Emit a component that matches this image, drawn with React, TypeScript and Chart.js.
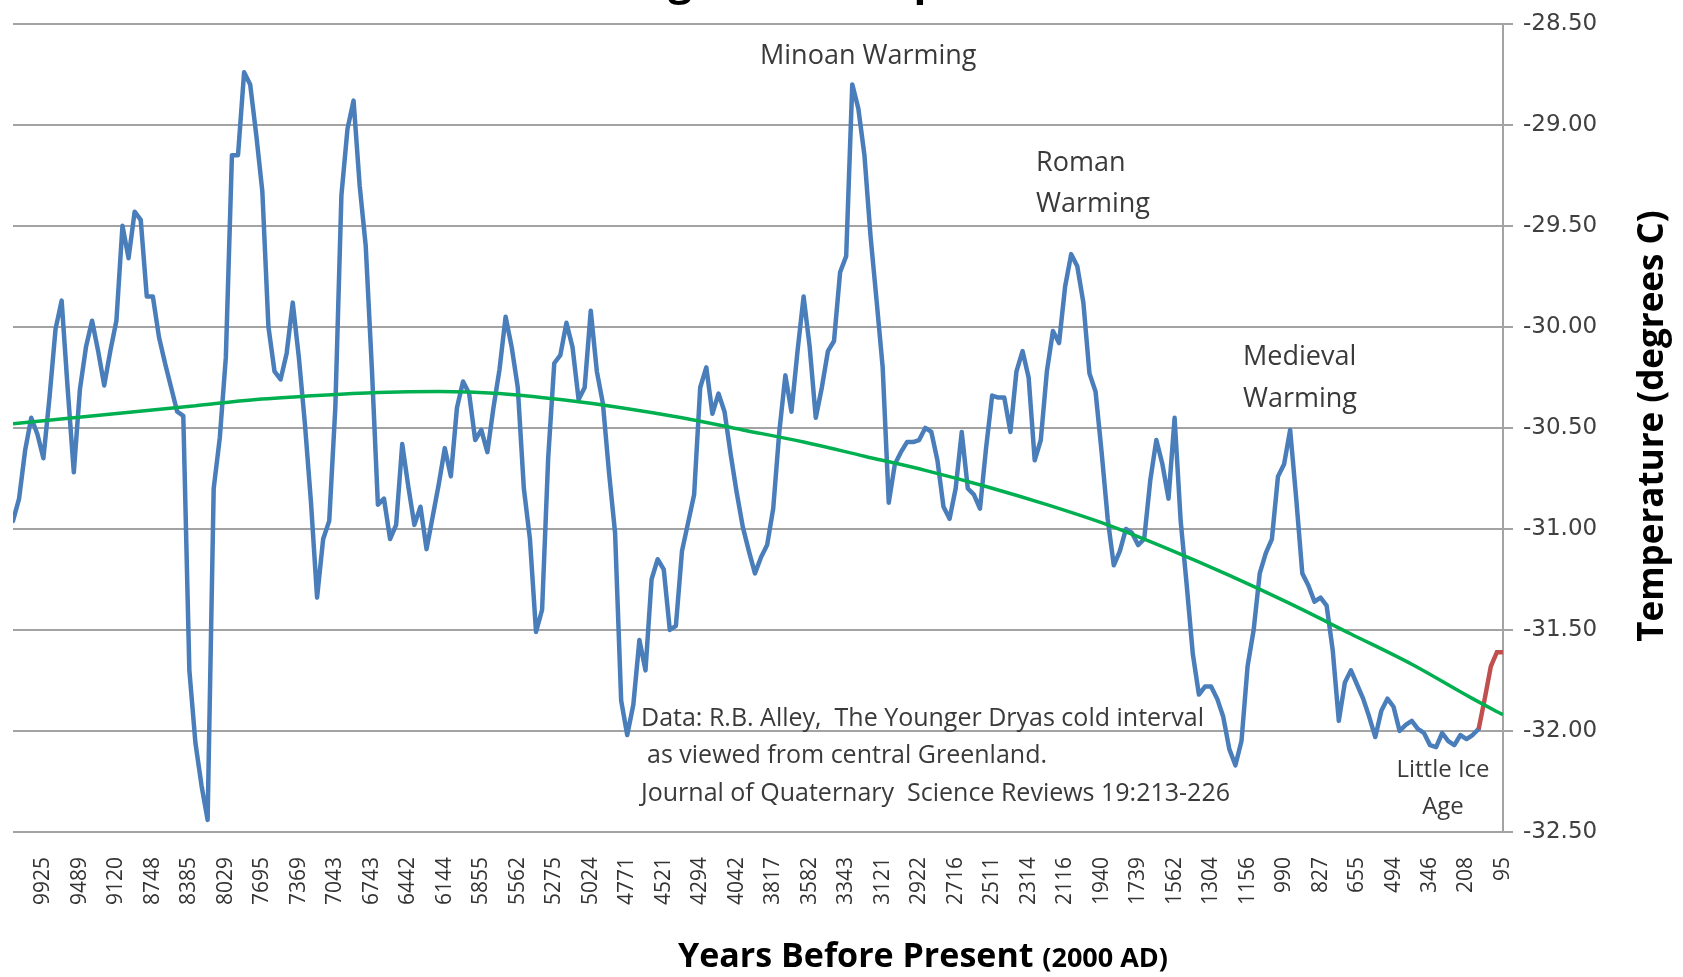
import React, { useEffect, useRef } from 'react';
import { Chart, registerables } from 'chart.js';

Chart.register(...registerables);

// Category tick labels (years before present), one every 6 samples
const tickLabels = [
  '9925', '9489', '9120', '8748', '8385', '8029', '7695', '7369', '7043', '6743',
  '6442', '6144', '5855', '5562', '5275', '5024', '4771', '4521', '4294', '4042',
  '3817', '3582', '3343', '3121', '2922', '2716', '2511', '2314', '2116', '1940',
  '1739', '1562', '1304', '1156', '990', '827', '655', '494', '346', '208', '95',
];
const tickIndex = tickLabels.map((_, j) => 5 + 6 * j);
const lastIndex = 245;

// GISP2 temperature (degrees C), sample index 0..241
const iceCoreTemps = [
  -30.96, -30.85, -30.61, -30.45, -30.53, -30.65, -30.35, -30.01, -29.87, -30.31,
  -30.72, -30.31, -30.10, -29.97, -30.12, -30.29, -30.12, -29.97, -29.50, -29.66,
  -29.43, -29.47, -29.85, -29.85, -30.05, -30.18, -30.30, -30.42, -30.44, -31.70,
  -32.06, -32.27, -32.44, -30.80, -30.55, -30.15, -29.15, -29.15, -28.74, -28.80,
  -29.05, -29.33, -30.00, -30.22, -30.26, -30.13, -29.88, -30.15, -30.48, -30.87,
  -31.34, -31.05, -30.96, -30.40, -29.35, -29.02, -28.88, -29.30, -29.60, -30.20,
  -30.88, -30.85, -31.05, -30.98, -30.58, -30.79, -30.98, -30.89, -31.10, -30.94,
  -30.78, -30.60, -30.74, -30.40, -30.27, -30.33, -30.56, -30.51, -30.62, -30.40,
  -30.21, -29.95, -30.10, -30.30, -30.80, -31.05, -31.51, -31.40, -30.65, -30.18,
  -30.14, -29.98, -30.10, -30.36, -30.30, -29.92, -30.22, -30.38, -30.72, -31.02,
  -31.85, -32.02, -31.87, -31.55, -31.70, -31.25, -31.15, -31.20, -31.50, -31.48,
  -31.11, -30.97, -30.83, -30.30, -30.20, -30.43, -30.33, -30.42, -30.63, -30.82,
  -30.99, -31.11, -31.22, -31.14, -31.08, -30.90, -30.52, -30.24, -30.42, -30.12,
  -29.85, -30.10, -30.45, -30.30, -30.12, -30.07, -29.73, -29.65, -28.80, -28.92,
  -29.15, -29.55, -29.87, -30.20, -30.87, -30.68, -30.62, -30.57, -30.57, -30.56,
  -30.50, -30.52, -30.66, -30.89, -30.95, -30.80, -30.52, -30.80, -30.83, -30.90,
  -30.60, -30.34, -30.35, -30.35, -30.52, -30.22, -30.12, -30.25, -30.66, -30.56,
  -30.22, -30.02, -30.08, -29.80, -29.64, -29.70, -29.88, -30.23, -30.32, -30.62,
  -30.95, -31.18, -31.11, -31.00, -31.02, -31.08, -31.05, -30.76, -30.56, -30.68,
  -30.85, -30.45, -30.96, -31.28, -31.62, -31.82, -31.78, -31.78, -31.84, -31.93,
  -32.09, -32.17, -32.05, -31.68, -31.50, -31.22, -31.12, -31.05, -30.74, -30.68,
  -30.51, -30.85, -31.22, -31.28, -31.36, -31.34, -31.38, -31.60, -31.95, -31.76,
  -31.70, -31.77, -31.84, -31.93, -32.03, -31.90, -31.84, -31.88, -32.00, -31.97,
  -31.95, -31.99, -32.01, -32.07, -32.08, -32.01, -32.05, -32.07, -32.02, -32.04,
  -32.02, -31.99,
];

// Recent segment (red), starting at sample 241
const recentStart = 241;
const recentTemps = [-31.99, -31.84, -31.68, -31.61, -31.61];

// Trend line (green) read at these sample indices
const trendIndex = [0, 10, 20, 30, 40, 50, 60, 70, 80, 90, 100, 110, 120, 130, 140, 150, 160, 170, 180, 190, 200, 210, 220, 230, 240, 245];
const trendTemps = [
  -30.48, -30.45, -30.42, -30.39, -30.36, -30.34, -30.325, -30.32, -30.33, -30.36,
  -30.40, -30.45, -30.51, -30.57, -30.64, -30.71, -30.79, -30.88, -30.98, -31.10,
  -31.23, -31.37, -31.52, -31.67, -31.84, -31.92,
];

const W = 1683;
const H = 977;

export default function App() {
  const ref = useRef<HTMLCanvasElement>(null);

  useEffect(() => {
    if (!ref.current) return;

    const textPlugin = {
      id: 'texts',
      afterDraw(chart: any) {
        const ctx = chart.ctx as CanvasRenderingContext2D;
        ctx.save();
        // Title (cut off at the top)
        ctx.fillStyle = '#000000';
        ctx.textAlign = 'center';
        ctx.textBaseline = 'alphabetic';
        ctx.font = 'bold 42px "Open Sans"';
        ctx.fillText('Long Term Temperature', 845, -5);

        // Annotations
        ctx.fillStyle = '#3a3a3a';
        ctx.textAlign = 'left';
        ctx.textBaseline = 'middle';
        ctx.font = '27px "Open Sans"';
        ctx.fillText('Minoan Warming', 760, 56);
        ctx.fillText('Roman', 1036, 163);
        ctx.fillText('Warming', 1036, 204);
        ctx.fillText('Medieval', 1243, 357);
        ctx.fillText('Warming', 1243, 399);
        ctx.textAlign = 'center';
        ctx.font = '24px "Open Sans"';
        ctx.fillText('Little Ice', 1443, 770);
        ctx.fillText('Age', 1443, 807);
        ctx.textAlign = 'left';
        ctx.font = '25px "Open Sans"';
        ctx.fillText('Data: R.B. Alley,  The Younger Dryas cold interval', 641, 719);
        ctx.fillText('as viewed from central Greenland.', 647, 756);
        ctx.fillText('Journal of Quaternary  Science Reviews 19:213-226', 641, 794);

        // X axis title
        ctx.fillStyle = '#000000';
        ctx.textBaseline = 'alphabetic';
        ctx.font = 'bold 34px "Open Sans"';
        const main = 'Years Before Present ';
        ctx.fillText(main, 678, 967);
        const mw = ctx.measureText(main).width;
        ctx.font = 'bold 27px "Open Sans"';
        ctx.fillText('(2000 AD)', 678 + mw, 967);

        // Y axis title (reads bottom to top)
        ctx.translate(1653, 426);
        ctx.rotate(-Math.PI / 2);
        ctx.textAlign = 'center';
        ctx.textBaseline = 'middle';
        ctx.font = 'bold 35px "Open Sans"';
        ctx.fillText('Temperature (degrees C)', 0, 0);
        ctx.restore();
      },
    };

    const chart = new Chart(ref.current, {
      type: 'line',
      data: {
        datasets: [
          {
            label: 'Trend',
            data: trendIndex.map((x, i) => ({ x, y: trendTemps[i] })),
            borderColor: '#00b050',
            borderWidth: 3.5,
            cubicInterpolationMode: 'monotone',
            pointRadius: 0,
            order: 0,
          },
          {
            label: 'Recent',
            data: recentTemps.map((y, i) => ({ x: recentStart + i, y })),
            borderColor: '#c0504d',
            borderWidth: 4.5,
            pointRadius: 0,
            tension: 0,
            order: 1,
          },
          {
            label: 'Temperature',
            data: iceCoreTemps.map((y, x) => ({ x, y })),
            borderColor: '#4a7ebb',
            borderWidth: 4.5,
            borderJoinStyle: 'round',
            borderCapStyle: 'round',
            pointRadius: 0,
            tension: 0,
            order: 2,
          },
        ],
      },
      options: {
        animation: false,
        responsive: true,
        maintainAspectRatio: false,
        layout: { padding: { left: 13, top: 20, right: 0, bottom: 0 } },
        plugins: {
          legend: { display: false },
          tooltip: { enabled: false },
          title: { display: false },
        },
        elements: { point: { radius: 0 } },
        scales: {
          x: {
            type: 'linear',
            min: 0,
            max: lastIndex,
            grid: { display: false, drawTicks: false },
            border: { display: false },
            afterBuildTicks: (s: any) => {
              s.ticks = tickIndex.map((v) => ({ value: v }));
            },
            afterFit: (s: any) => {
              s.height = 145;
            },
            ticks: {
              autoSkip: false,
              maxRotation: 90,
              minRotation: 90,
              padding: 25,
              color: '#333333',
              font: { family: 'Open Sans', size: 21 },
              callback: (v: any) => {
                const j = tickIndex.indexOf(Number(v));
                return j >= 0 ? tickLabels[j] : '';
              },
            },
          },
          y: {
            position: 'right',
            min: -32.5,
            max: -28.5,
            ticks: {
              stepSize: 0.5,
              padding: 10,
              color: '#404040',
              font: { family: 'DejaVu Sans', size: 23 },
              callback: (v: any) => Number(v).toFixed(2),
            },
            grid: { color: '#a3a3a3', lineWidth: 2, tickLength: 10, drawTicks: true },
            border: { display: true, color: '#a3a3a3', width: 2 },
            afterFit: (s: any) => {
              s.width = 180;
            },
          },
        },
      },
      plugins: [textPlugin],
    } as any);

    return () => chart.destroy();
  }, []);

  return (
    <div style={{ position: 'absolute', left: 0, top: 0, width: W, height: H, background: '#ffffff' }}>
      <canvas ref={ref} />
    </div>
  );
}
